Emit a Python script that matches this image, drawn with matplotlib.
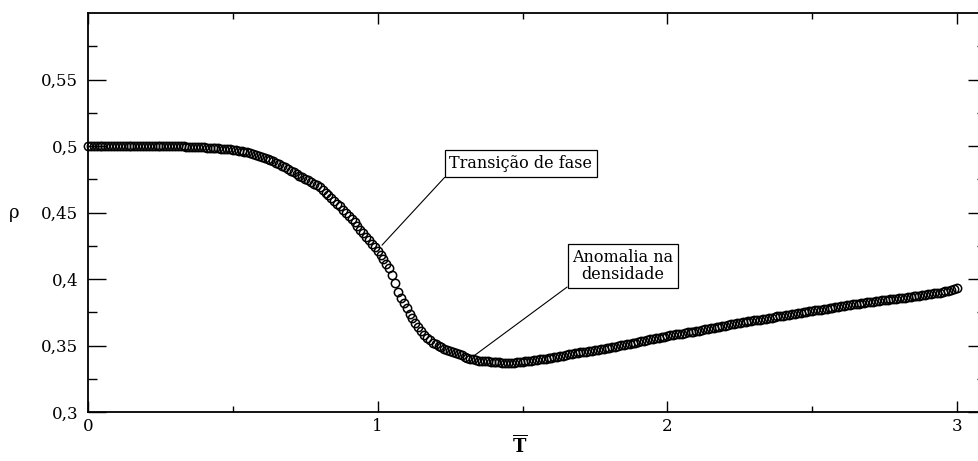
import numpy as np
import matplotlib
matplotlib.use("Agg")
import matplotlib.pyplot as plt
from matplotlib.ticker import FixedLocator, FixedFormatter

# Reduced temperature grid and density values
temperature = np.round(np.arange(0.0, 3.0001, 0.01), 2)
density = [
    0.5000, 0.5000, 0.5000, 0.5000, 0.5000, 0.5000, 0.5000, 0.5000, 0.5000, 0.5000,
    0.5000, 0.5000, 0.5000, 0.5000, 0.5000, 0.5000, 0.5000, 0.5000, 0.5000, 0.5000,
    0.5000, 0.5000, 0.5000, 0.4999, 0.5000, 0.4999, 0.4999, 0.4999, 0.4998, 0.4999,
    0.4998, 0.4998, 0.4997, 0.4997, 0.4996, 0.4995, 0.4995, 0.4994, 0.4993, 0.4992,
    0.4990, 0.4989, 0.4988, 0.4986, 0.4985, 0.4983, 0.4981, 0.4979, 0.4977, 0.4975,
    0.4972, 0.4969, 0.4966, 0.4962, 0.4958, 0.4953, 0.4948, 0.4943, 0.4934, 0.4928,
    0.4921, 0.4914, 0.4905, 0.4896, 0.4887, 0.4876, 0.4866, 0.4854, 0.4843, 0.4829,
    0.4816, 0.4803, 0.4791, 0.4779, 0.4768, 0.4754, 0.4742, 0.4731, 0.4718, 0.4705,
    0.4689, 0.4671, 0.4651, 0.4632, 0.4612, 0.4590, 0.4568, 0.4549, 0.4522, 0.4500,
    0.4476, 0.4451, 0.4427, 0.4399, 0.4372, 0.4347, 0.4318, 0.4292, 0.4266, 0.4241,
    0.4215, 0.4183, 0.4150, 0.4117, 0.4081, 0.4030, 0.3970, 0.3904, 0.3862, 0.3820,
    0.3780, 0.3742, 0.3705, 0.3670, 0.3638, 0.3610, 0.3582, 0.3558, 0.3540, 0.3524,
    0.3510, 0.3498, 0.3488, 0.3478, 0.3467, 0.3458, 0.3450, 0.3442, 0.3435, 0.3427,
    0.3418, 0.3410, 0.3403, 0.3397, 0.3393, 0.3389, 0.3386, 0.3384, 0.3382, 0.3380,
    0.3378, 0.3377, 0.3375, 0.3374, 0.3373, 0.3372, 0.3374, 0.3373, 0.3376, 0.3378,
    0.3380, 0.3383, 0.3382, 0.3386, 0.3390, 0.3393, 0.3398, 0.3400, 0.3402, 0.3405,
    0.3410, 0.3413, 0.3418, 0.3421, 0.3426, 0.3430, 0.3435, 0.3441, 0.3444, 0.3447,
    0.3450, 0.3452, 0.3456, 0.3460, 0.3463, 0.3466, 0.3470, 0.3474, 0.3477, 0.3482,
    0.3485, 0.3490, 0.3493, 0.3497, 0.3503, 0.3507, 0.3511, 0.3515, 0.3519, 0.3524,
    0.3528, 0.3533, 0.3537, 0.3542, 0.3548, 0.3553, 0.3555, 0.3560, 0.3564, 0.3569,
    0.3573, 0.3578, 0.3580, 0.3585, 0.3588, 0.3592, 0.3595, 0.3600, 0.3604, 0.3607,
    0.3611, 0.3614, 0.3619, 0.3624, 0.3628, 0.3632, 0.3636, 0.3640, 0.3643, 0.3647,
    0.3652, 0.3655, 0.3660, 0.3664, 0.3668, 0.3670, 0.3675, 0.3678, 0.3683, 0.3686,
    0.3691, 0.3694, 0.3697, 0.3702, 0.3704, 0.3709, 0.3712, 0.3717, 0.3720, 0.3724,
    0.3727, 0.3731, 0.3734, 0.3739, 0.3741, 0.3745, 0.3749, 0.3752, 0.3756, 0.3760,
    0.3762, 0.3766, 0.3769, 0.3772, 0.3776, 0.3779, 0.3783, 0.3786, 0.3790, 0.3793,
    0.3797, 0.3800, 0.3803, 0.3806, 0.3810, 0.3812, 0.3815, 0.3819, 0.3822, 0.3825,
    0.3828, 0.3830, 0.3834, 0.3836, 0.3840, 0.3842, 0.3845, 0.3848, 0.3851, 0.3853,
    0.3856, 0.3859, 0.3862, 0.3864, 0.3868, 0.3871, 0.3873, 0.3877, 0.3880, 0.3883,
    0.3886, 0.3889, 0.3893, 0.3897, 0.3900, 0.3905, 0.3910, 0.3915, 0.3920, 0.3924,
    0.3934,
]

x_major = [0, 1, 2, 3]
x_major_labels = ["0", "1", "2", "3"]
x_minor = [0.5, 1.5, 2.5]
y_major = [0.30, 0.35, 0.40, 0.45, 0.50, 0.55]
y_major_labels = ["0,3", "0,35", "0,4", "0,45", "0,5", "0,55"]
y_minor = [0.325, 0.375, 0.425, 0.475, 0.525, 0.575]

label_transition = "Transição de fase"
label_anomaly = "Anomalia na\ndensidade"

plt.rcParams["font.family"] = ["DejaVu Serif"]
plt.rcParams["mathtext.fontset"] = "dejavuserif"

W, H, DPI = 979, 461, 100
fig = plt.figure(figsize=(W / DPI, H / DPI), dpi=DPI)
# axes frame: right edge runs slightly past the figure border
ax = fig.add_axes([88 / W, (H - 412.3) / H, (986 - 88) / W, (412.3 - 13) / H])

ax.plot(temperature, density, linestyle="none", marker="o", markersize=6,
        markerfacecolor="none", markeredgecolor="black", markeredgewidth=1.1,
        clip_on=False, zorder=3)

ax.set_xlim(0, 3.1)
ax.set_ylim(0.3, 0.6)

ax.xaxis.set_major_locator(FixedLocator(x_major))
ax.xaxis.set_major_formatter(FixedFormatter(x_major_labels))
ax.xaxis.set_minor_locator(FixedLocator(x_minor))
ax.yaxis.set_major_locator(FixedLocator(y_major))
ax.yaxis.set_major_formatter(FixedFormatter(y_major_labels))
ax.yaxis.set_minor_locator(FixedLocator(y_minor))

ax.tick_params(axis="both", which="both", direction="in", top=True, right=True,
               colors="black", labelsize=12)
ax.tick_params(axis="y", which="major", length=13, width=1.0, pad=7)
ax.tick_params(axis="y", which="minor", length=6.5, width=1.0)
ax.tick_params(axis="x", which="major", length=8, width=1.0, pad=4)
ax.tick_params(axis="x", which="minor", length=4.3, width=1.0)

for s in ax.spines.values():
    s.set_linewidth(1.3)

ax.set_ylabel("ρ", rotation=0, fontsize=13)
ax.yaxis.set_label_coords(-0.082, 0.5)
ax.yaxis.label.set_va("center")
ax.set_xlabel(r"$\overline{\mathbf{T}}$", fontsize=13)
ax.xaxis.set_label_coords(0.481, -0.055)

box = dict(boxstyle="square,pad=0.3", facecolor="white", edgecolor="black", linewidth=0.9)
line = dict(arrowstyle="-", color="black", lw=0.8, relpos=(0, 0), shrinkA=0, shrinkB=0)

ax.annotate(label_transition, xy=(1.015, 0.4256), xytext=(1.4946, 0.4868),
            textcoords="data", ha="center", va="center", fontsize=11.5,
            bbox=box, arrowprops=line, zorder=4)
ax.annotate(label_anomaly, xy=(1.336, 0.343), xytext=(1.8467, 0.4098),
            textcoords="data", ha="center", va="center", fontsize=11.5,
            linespacing=1.0, bbox=box, arrowprops=line, zorder=4)

fig.savefig("out.png", dpi=DPI)
